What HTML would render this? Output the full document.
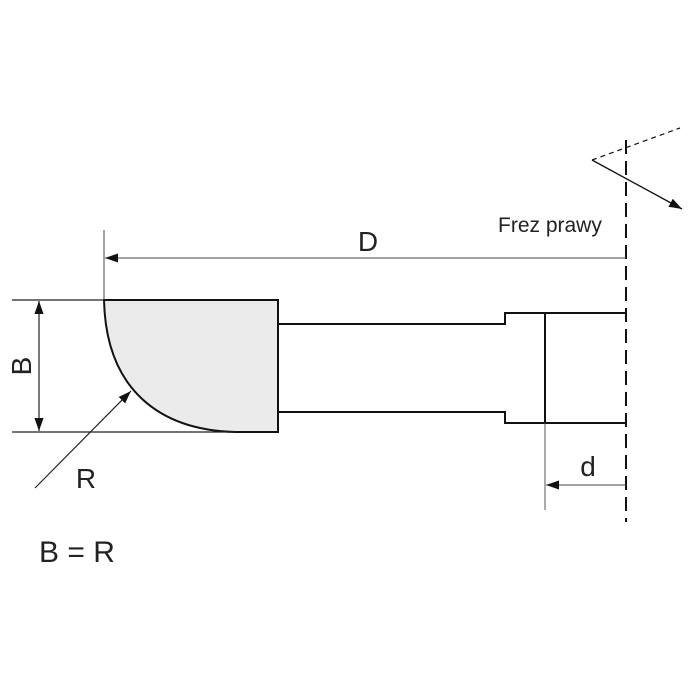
<!DOCTYPE html>
<html><head><style>html,body{margin:0;padding:0;background:#fff}svg{display:block}</style></head>
<body>
<svg width="692" height="692" viewBox="0 0 692 692" xmlns="http://www.w3.org/2000/svg" font-family="Liberation Sans, Arial, sans-serif">
<defs>
<marker id="a" viewBox="0 0 10 10" refX="10" refY="5" markerWidth="13" markerHeight="13" markerUnits="userSpaceOnUse" orient="auto"><path d="M0,1.5 L10,5 L0,8.5 z" fill="#111"/></marker>
</defs>
<rect width="692" height="692" fill="#fff"/>
<line x1="626" y1="140" x2="626" y2="522" stroke="#111" stroke-width="2" stroke-dasharray="14,7"/>
<line x1="592" y1="160" x2="680" y2="128" stroke="#111" stroke-width="1.2" stroke-dasharray="5,4"/>
<line x1="592" y1="160" x2="682" y2="209" stroke="#111" stroke-width="1.3" marker-end="url(#a)"/>
<text x="498" y="232" font-size="21" fill="#222">Frez prawy</text>
<line x1="104" y1="230" x2="104" y2="300" stroke="#444" stroke-width="1"/>
<line x1="626" y1="258" x2="105" y2="258" stroke="#444" stroke-width="1" marker-end="url(#a)"/>
<text x="368" y="251" font-size="28" text-anchor="middle" fill="#222">D</text>
<path d="M104,300 L278,300 L278,432 L235,432 C160,430 106,390 104,300 Z" fill="#ebebeb" stroke="#111" stroke-width="2"/>
<line x1="12" y1="300" x2="104" y2="300" stroke="#222" stroke-width="1.2"/>
<line x1="12" y1="432" x2="235" y2="432" stroke="#222" stroke-width="1.2"/>
<line x1="39" y1="366" x2="39" y2="301" stroke="#222" stroke-width="1.2" marker-end="url(#a)"/>
<line x1="39" y1="366" x2="39" y2="431" stroke="#222" stroke-width="1.2" marker-end="url(#a)"/>
<text x="0" y="0" font-size="28" fill="#222" transform="translate(31,366) rotate(-90)" text-anchor="middle">B</text>
<line x1="35" y1="488" x2="131" y2="391" stroke="#222" stroke-width="1.2" marker-end="url(#a)"/>
<text x="86" y="488" font-size="28" text-anchor="middle" fill="#222">R</text>
<path d="M278,324 L505,324 L505,313 L626,313" fill="none" stroke="#111" stroke-width="2"/>
<path d="M278,412 L505,412 L505,423 L626,423" fill="none" stroke="#111" stroke-width="2"/>
<line x1="545" y1="313" x2="545" y2="423" stroke="#111" stroke-width="2"/>
<line x1="545" y1="423" x2="545" y2="510" stroke="#555" stroke-width="1"/>
<line x1="626" y1="485" x2="546" y2="485" stroke="#444" stroke-width="1" marker-end="url(#a)"/>
<text x="588" y="476" font-size="28" text-anchor="middle" fill="#222">d</text>
<text x="39" y="562" font-size="30" fill="#222">B = R</text>
</svg>
</body></html>
